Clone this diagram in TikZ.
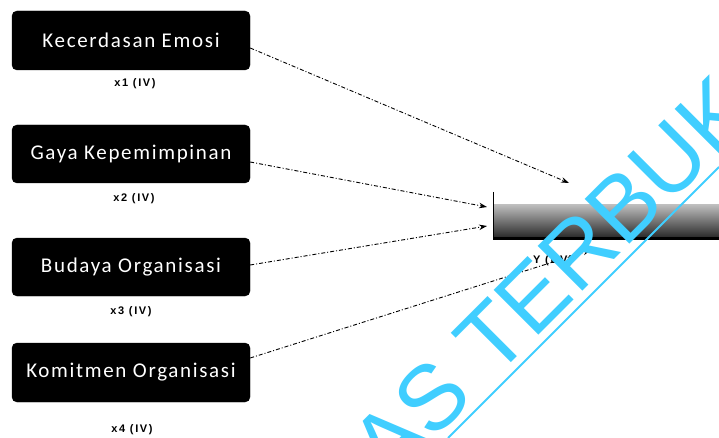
\documentclass[tikz,border=0pt]{standalone}
\usepackage{fontspec}
\setmainfont{Carlito}
\newfontfamily\boxfont[LetterSpace=8]{Carlito}
\newfontfamily\lblfont[LetterSpace=15]{Liberation Sans}
\newfontfamily\wmfont{Liberation Sans}
\usetikzlibrary{arrows.meta,calc}
\definecolor{wmcyan}{RGB}{64,206,255}
\begin{document}
\begin{tikzpicture}[x=1pt,y=-1pt,
  varbox/.style={draw=black,fill=black,rounded corners=5pt,minimum width=238pt,minimum height=58pt,
    text=white,font=\boxfont\fontsize{21}{21}\selectfont,inner sep=0pt},
  lbl/.style={font=\lblfont\bfseries\fontsize{11}{11}\selectfont,inner sep=0pt},
  link/.style={draw=black,line width=0.9pt,dash pattern=on 4pt off 2pt on 1pt off 2pt,
    -{Stealth[length=8pt,width=5.5pt]}},
  ybox/.style={top color=black!25,bottom color=black!85,draw=none,minimum width=232pt,minimum height=34pt,inner sep=0pt,anchor=north west},
  wmtext/.style={text=wmcyan,font=\wmfont\fontsize{92}{92}\selectfont,inner sep=0pt,anchor=base west,rotate=45}]
\useasboundingbox (0,0) rectangle (719,438);
% independent variables
\node[varbox,minimum height=59pt] (b1) at (131,40.5) {Kecerdasan Emosi};
\node[varbox] (b2) at (131,154) {Gaya Kepemimpinan};
\node[varbox] (b3) at (131,267) {Budaya Organisasi};
\node[varbox,minimum height=59pt] (b4) at (131,372.5) {Komitmen Organisasi};
\node[lbl] (l1) at (135,84) {x1 (IV)};
\node[lbl] (l2) at (134,199) {x2 (IV)};
\node[lbl] (l3) at (131,312) {x3 (IV)};
\node[lbl] (l4) at (132,430) {x4 (IV)};
% dependent variable
\node[ybox] (y) at (493,204) {};
\draw[line width=3pt] (y.south west) -- (y.south east);
\draw[line width=1pt] ($(y.north west)+(0,-12)$) -- (y.south west);
\node[lbl] (yl) at (553,261) {Y (DV)};
% arrow end points
\coordinate (e1) at (569,183);
\coordinate (e2) at (487,207);
\coordinate (e3) at (487,226);
\coordinate (e4) at (591,250);
\draw[link] ($(b1.east)+(0,7.5)$) -- (e1);
\draw[link] ($(b2.east)+(0,8)$) -- (e2);
\draw[link] ($(b3.east)+(0,-2)$) -- (e3);
\draw[link] ($(b4.east)+(0,-14.5)$) -- (e4);
% watermark
\begin{scope}
\clip (0,0) rectangle (719,438);
\node[wmtext] (wm) at (389.3,484.8) {AS TERBUKA};
\coordinate (u1) at (448,438);
\coordinate (u2) at (719,167);
\draw[wmcyan,line width=2pt] (u1) -- (u2);
\end{scope}
\end{tikzpicture}
\end{document}
